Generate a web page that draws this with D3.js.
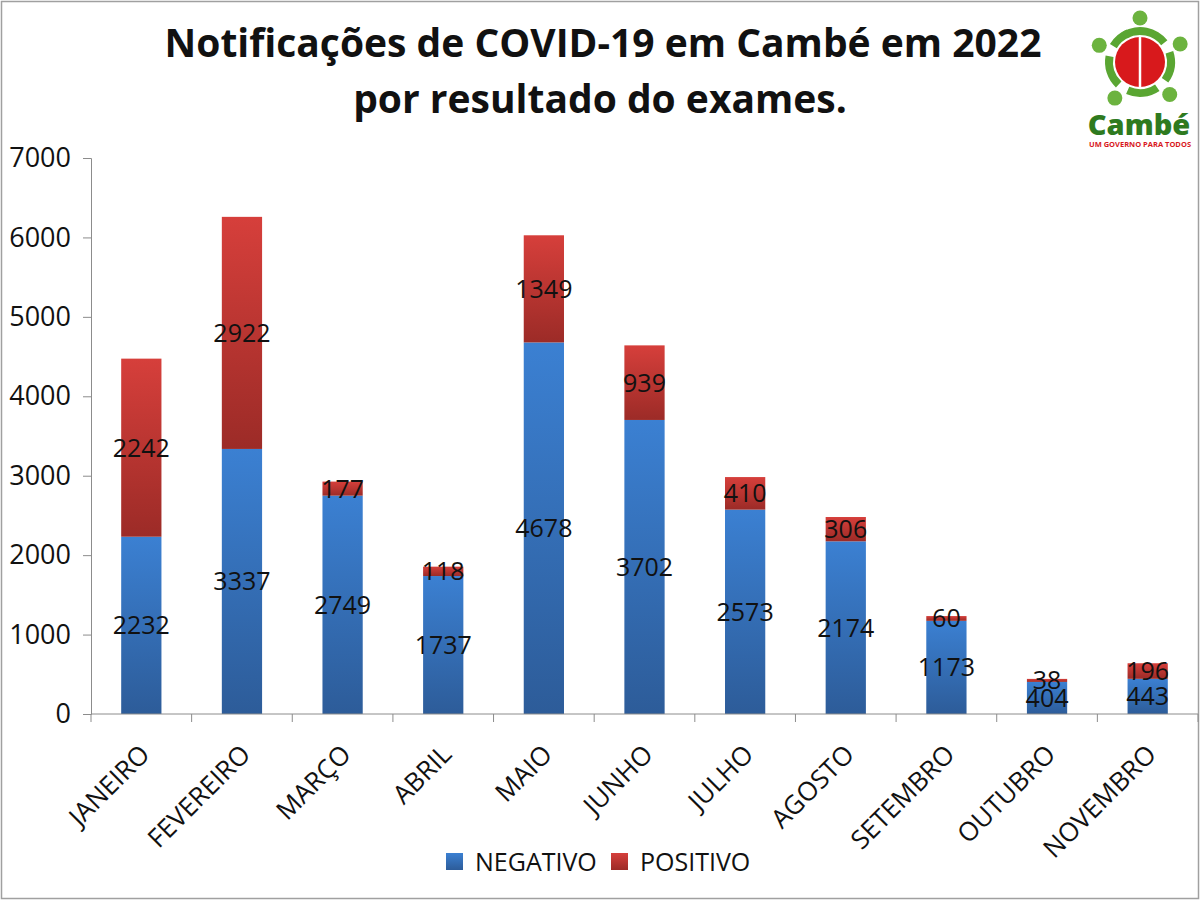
<!DOCTYPE html>
<html>
<head>
<meta charset="utf-8">
<script src="https://cdn.jsdelivr.net/npm/d3@7"></script>
<style>
  body { margin: 0; background: #fff; }
  text { font-family: "Open Sans", sans-serif; }
</style>
</head>
<body>
<div id="renderer"></div>
<script>
// data
const months = ["JANEIRO", "FEVEREIRO", "MARÇO", "ABRIL", "MAIO", "JUNHO", "JULHO", "AGOSTO", "SETEMBRO", "OUTUBRO", "NOVEMBRO"];
const negativo = [2232, 3337, 2749, 1737, 4678, 3702, 2573, 2174, 1173, 404, 443];
const positivo = [2242, 2922, 177, 118, 1349, 939, 410, 306, 60, 38, 196];
const yTicks = [0, 1000, 2000, 3000, 4000, 5000, 6000, 7000];
const seriesNames = ["NEGATIVO", "POSITIVO"];

const width = 1200;
const height = 900;
const margin = { left: 91, right: 2, top: 158, bottom: 186 };

const svg = d3.select("#renderer")
    .append("svg")
    .attr("width", width)
    .attr("height", height);

// gradients for the bars (lighter on top, darker at the bottom)
const defs = svg.append("defs");
const grads = [
    { id: "gNeg", top: "#3b80d2", bottom: "#2d5c99" },
    { id: "gPos", top: "#d63f3b", bottom: "#9c2b27" }
];
grads.forEach(g => {
    const lg = defs.append("linearGradient")
        .attr("id", g.id)
        .attr("x1", 0).attr("y1", 0).attr("x2", 0).attr("y2", 1);
    lg.append("stop").attr("offset", "0%").attr("stop-color", g.top);
    lg.append("stop").attr("offset", "100%").attr("stop-color", g.bottom);
});

// slide border
svg.append("rect")
    .attr("x", 1.5).attr("y", 1.5)
    .attr("width", width - 3).attr("height", height - 3)
    .attr("fill", "none")
    .attr("stroke", "#a0a0a0")
    .attr("stroke-width", 1.5);

const x = d3.scaleBand()
    .domain(months)
    .range([margin.left, width - margin.right])
    .paddingInner(0.6)
    .paddingOuter(0.3);

const y = d3.scaleLinear()
    .domain([0, 7000])
    .range([height - margin.bottom, margin.top]);

// stacked data
const rows = months.map((m, i) => ({ month: m, NEGATIVO: negativo[i], POSITIVO: positivo[i] }));
const stacked = d3.stack().keys(seriesNames)(rows);

const layers = svg.selectAll("g.layer")
    .data(stacked)
    .join("g")
    .attr("class", "layer")
    .attr("fill", (d, i) => `url(#${grads[i].id})`);

layers.selectAll("rect")
    .data(d => d)
    .join("rect")
    .attr("x", d => x(d.data.month))
    .attr("width", x.bandwidth())
    .attr("y", d => y(d[1]))
    .attr("height", d => y(d[0]) - y(d[1]));

// value labels centred in each segment
stacked.forEach(layer => {
    svg.append("g").selectAll("text")
        .data(layer)
        .join("text")
        .attr("x", d => x(d.data.month) + x.bandwidth() / 2)
        .attr("y", d => y((d[0] + d[1]) / 2))
        .attr("dy", "0.36em")
        .attr("text-anchor", "middle")
        .attr("font-size", "25px")
        .attr("fill", "#111")
        .text(d => d[1] - d[0]);
});

// y axis
const yAxis = svg.append("g")
    .attr("transform", `translate(${margin.left},0)`)
    .call(d3.axisLeft(y).tickValues(yTicks).tickSize(8).tickFormat(d3.format("d")));
yAxis.select(".domain").attr("stroke", "#8c8c8c");
yAxis.selectAll(".tick line").attr("stroke", "#8c8c8c");
yAxis.selectAll(".tick text")
    .attr("font-size", "27px")
    .attr("fill", "#111")
    .attr("x", -20)
    .style("font-family", "'Open Sans', sans-serif");

// x axis line with ticks at category boundaries
const x0 = height - margin.bottom;
svg.append("line")
    .attr("x1", margin.left).attr("x2", width - margin.right)
    .attr("y1", x0).attr("y2", x0)
    .attr("stroke", "#8c8c8c");
const boundaries = d3.range(months.length + 1).map(i => margin.left + i * (width - margin.left - margin.right) / months.length);
svg.append("g").selectAll("line")
    .data(boundaries)
    .join("line")
    .attr("x1", d => d).attr("x2", d => d)
    .attr("y1", x0).attr("y2", x0 + 8)
    .attr("stroke", "#8c8c8c");

// rotated month labels
svg.append("g").selectAll("text")
    .data(months)
    .join("text")
    .attr("transform", d => `translate(${x(d) + x.bandwidth() / 2 + 10},${x0 + 42}) rotate(-45)`)
    .attr("text-anchor", "end")
    .attr("font-size", "26px")
    .attr("fill", "#111")
    .text(d => d);

// legend
const legend = svg.append("g").attr("transform", "translate(446,853)");
const legendX = [0, 165];
seriesNames.forEach((name, i) => {
    legend.append("rect")
        .attr("x", legendX[i]).attr("y", 0)
        .attr("width", 17).attr("height", 17)
        .attr("fill", `url(#${grads[i].id})`);
    legend.append("text")
        .attr("x", legendX[i] + 29).attr("y", 9)
        .attr("dy", "0.36em")
        .attr("font-size", "25px")
        .attr("fill", "#111")
        .text(name);
});

// title
const title = svg.append("text")
    .attr("x", 600)
    .attr("text-anchor", "middle")
    .attr("font-size", "39px")
    .attr("font-weight", "bold")
    .attr("fill", "#111");
title.append("tspan").attr("x", 603).attr("y", 57).text("Notificações de COVID-19 em Cambé em 2022");
title.append("tspan").attr("x", 600).attr("y", 113).text("por resultado do exames.");

// logo (rough)
const logo = svg.append("g").attr("transform", "translate(1140,62)");
const ringArc = d3.arc().innerRadius(27).outerRadius(35);
const ringParts = [[-0.5, 0.9], [1.25, 2.2], [2.55, 3.55], [3.9, 4.9], [5.25, 5.9]];
logo.selectAll("path.ring")
    .data(ringParts)
    .join("path")
    .attr("class", "ring")
    .attr("d", d => ringArc({ startAngle: d[0], endAngle: d[1] }))
    .attr("fill", "#5aa632");
const dotAngles = [0, 1.15, 2.4, 3.75, 5.1];
logo.selectAll("circle.dot")
    .data(dotAngles)
    .join("circle")
    .attr("class", "dot")
    .attr("cx", d => Math.sin(d) * 44)
    .attr("cy", d => -Math.cos(d) * 44)
    .attr("r", 7.5)
    .attr("fill", "#6cb33f");
logo.append("circle").attr("r", 25).attr("fill", "#d8191c");
logo.append("line")
    .attr("x1", 0).attr("x2", 0).attr("y1", -25).attr("y2", 25)
    .attr("stroke", "#fff").attr("stroke-width", 2.5);
logo.append("text")
    .attr("x", -1).attr("y", 73)
    .attr("text-anchor", "middle")
    .attr("font-size", "29px")
    .attr("font-weight", "800")
    .attr("fill", "#2e7a1f")
    .text("Cambé");
logo.append("text")
    .attr("x", 0).attr("y", 85)
    .attr("text-anchor", "middle")
    .attr("font-size", "7.5px")
    .attr("font-weight", "bold")
    .attr("fill", "#d8191c")
    .text("UM GOVERNO PARA TODOS");
</script>
</body>
</html>
